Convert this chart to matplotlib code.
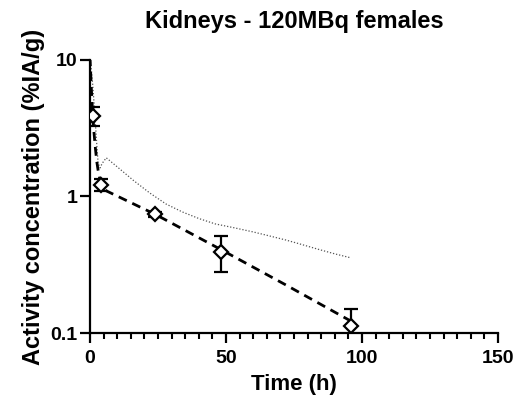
import matplotlib
matplotlib.use('Agg')
import matplotlib.pyplot as plt
from matplotlib.ticker import FixedLocator, NullLocator

plt.rcParams['font.family'] = ['Liberation Sans', 'DejaVu Sans']
plt.rcParams['font.weight'] = 'bold'

# measured data (mean +/- SD)
time_h = [1, 4, 24, 48, 96]
conc = [3.9, 1.22, 0.74, 0.395, 0.113]
conc_sd = [0.6, 0.13, 0.03, 0.115, 0.038]

# fitted curve (dashed)
fit_t = [0, 0.5, 1, 1.5, 2, 2.5, 3, 3.5, 4, 5, 6, 24, 48, 72, 96]
fit_c = [10.5, 6.2, 4.0, 2.9, 2.25, 1.8, 1.55, 1.38, 1.26, 1.15, 1.1, 0.74, 0.41, 0.225, 0.122]

# reference curve (dotted)
ref_t = [0, 0.5, 1, 1.5, 2, 2.5, 3, 3.7, 4.5, 6, 10, 16, 22, 28, 34, 40, 46, 53, 60, 65, 72, 77, 84, 90, 96]
ref_c = [10.2, 8.5, 6.6, 4.8, 3.4, 2.4, 1.75, 1.62, 1.75, 1.92, 1.65, 1.31, 1.06, 0.88, 0.77, 0.69, 0.63, 0.59, 0.55, 0.52, 0.48, 0.45, 0.41, 0.38, 0.355]

fig = plt.figure(figsize=(5.18, 4.08), dpi=100)
ax = fig.add_axes([0.1737, 0.1838, 0.7877, 0.6692])

ax.plot(ref_t, ref_c, linestyle=(0, (1, 1.5)), color='#555555', linewidth=0.9)
ax.plot(fit_t, fit_c, linestyle=(0, (3.2, 2.2)), color='black', linewidth=2.0)
ax.errorbar(time_h, conc, yerr=conc_sd, fmt='D', markersize=7, markerfacecolor='white',
            markeredgecolor='black', markeredgewidth=1.6, ecolor='black', elinewidth=1.6,
            capsize=5, capthick=1.6, zorder=5)

ax.set_yscale('log')
ax.set_ylim(0.1, 10)
ax.set_xlim(0, 150)
ax.yaxis.set_major_locator(FixedLocator([0.1, 1, 10]))
ax.yaxis.set_minor_locator(NullLocator())
ax.set_yticklabels(['0.1', '1', '10'])
ax.set_xticks([0, 50, 100, 150])
ax.set_xticks([t for t in range(0, 151, 5) if t % 50], minor=True)

for s in ['top', 'right']:
    ax.spines[s].set_visible(False)
for s in ['left', 'bottom']:
    ax.spines[s].set_linewidth(1.6)
ax.tick_params(which='major', length=7, width=1.6, labelsize=14)
ax.tick_params(axis='x', which='major', pad=5)
ax.tick_params(axis='y', which='major', pad=2)
ax.tick_params(axis='x', which='minor', length=4.5, width=1.5)

ax.set_xlabel('Time (h)', fontsize=16, fontweight='bold', labelpad=5)
ax.set_ylabel('Activity concentration (%IA/g)', fontsize=17, fontweight='bold', labelpad=4)
ax.set_title('Kidneys - 120MBq females', fontsize=17, fontweight='bold', pad=23)

fig.savefig('out.png', dpi=100, facecolor='white')
